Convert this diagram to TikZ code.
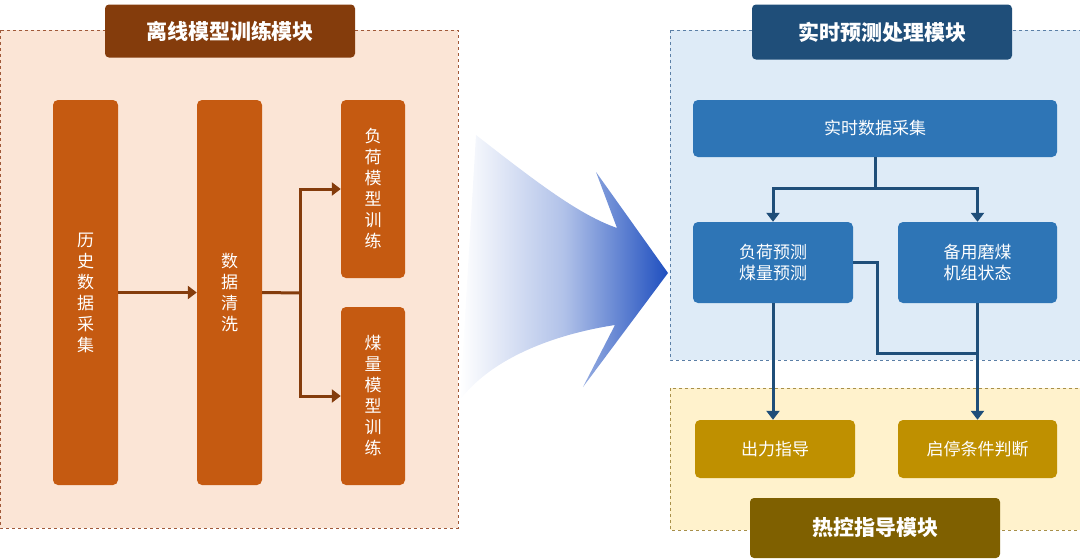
\documentclass[tikz,border=0pt]{standalone}
\usepackage{fontspec}
\setmainfont{Noto Sans CJK SC}
\usetikzlibrary{positioning, calc, arrows.meta}
\definecolor{offfill}{HTML}{FBE5D6}
\definecolor{offline}{HTML}{A0593A}
\definecolor{offtitle}{HTML}{843C0C}
\definecolor{offnode}{HTML}{C55A11}
\definecolor{rtfill}{HTML}{DEEBF7}
\definecolor{rtline}{HTML}{5B7FA6}
\definecolor{rttitle}{HTML}{1F4E79}
\definecolor{rtnode}{HTML}{2E75B6}
\definecolor{gdfill}{HTML}{FFF2CC}
\definecolor{gdline}{HTML}{A8904A}
\definecolor{gdtitle}{HTML}{7F6000}
\definecolor{gdnode}{HTML}{BF9000}
\definecolor{bigblue}{HTML}{1F4FBF}
\begin{document}
\begin{tikzpicture}[x=1pt, y=-1pt,
  panel/.style={draw, dashed, line width=0.8pt},
  title/.style={rounded corners=4pt, text=white, font=\bfseries\fontsize{21}{24}\selectfont, inner sep=0pt},
  box/.style={rounded corners=5pt, text=white, font=\fontsize{17}{21}\selectfont, align=center, inner sep=0pt},
  vbox/.style={box, fill=offnode},
  brarrow/.style={draw=offtitle, line width=3pt, -{Triangle[length=9pt,width=13pt]}},
  blarrow/.style={draw=rttitle, line width=3pt, -{Triangle[length=9pt,width=13pt]}}]
\useasboundingbox (0,0) rectangle (1080,560);
% panels
\filldraw[panel, fill=offfill, draw=offline] (0,30) rectangle (458,528);
\filldraw[panel, fill=rtfill, draw=rtline] (670,30) rectangle (1080,360);
\filldraw[panel, fill=gdfill, draw=gdline] (670,388) rectangle (1080,530);
% big arrow
\shade[left color=white, right color=bigblue, middle color=bigblue!35]
  (476,135) .. controls (540,185) and (580,215) .. (617,228) -- (596,172) -- (668,273)
  -- (583,387) -- (615,325) .. controls (550,335) and (490,360) .. (460,400) -- cycle;
% titles
\node[title, fill=offtitle, minimum width=250pt, minimum height=53pt] (offt) at (230,31) {离线模型训练模块};
\node[title, fill=rttitle, minimum width=260pt, minimum height=55pt] (rtt) at (882,32) {实时预测处理模块};
\node[title, fill=gdtitle, minimum width=250pt, minimum height=60pt] (gdt) at (875,528) {热控指导模块};
% offline nodes
\node[vbox, minimum width=65pt, minimum height=385pt] (hist) at (85.5,292.5) {历\\史\\数\\据\\采\\集};
\node[vbox, minimum width=65pt, minimum height=385pt] (clean) at (229.5,292.5) {数\\据\\清\\洗};
\node[vbox, minimum width=64pt, minimum height=178pt] (load) at (373,189) {负\\荷\\模\\型\\训\\练};
\node[vbox, minimum width=64pt, minimum height=178pt] (coal) at (373,396) {煤\\量\\模\\型\\训\\练};
\coordinate (split) at (300,293);
\draw[brarrow] (hist.east) -- (clean.west);
\draw[draw=offtitle, line width=3pt] (clean.east) -- (split);
\draw[brarrow] (split) |- (load.west);
\draw[brarrow] (split) |- (coal.west);
% real-time nodes
\node[box, fill=rtnode, minimum width=364pt, minimum height=57pt] (rtin) at (875,128.5) {实时数据采集};
\node[box, fill=rtnode, minimum width=160pt, minimum height=81pt] (pred) at (773,262.5) {负荷预测\\煤量预测};
\node[box, fill=rtnode, minimum width=159pt, minimum height=81pt] (mill) at (977.5,262.5) {备用磨煤\\机组状态};
\node[box, fill=gdnode, minimum width=160pt, minimum height=58pt] (out) at (775,449) {出力指导};
\node[box, fill=gdnode, minimum width=159pt, minimum height=58pt] (stst) at (977.5,449) {启停条件判断};
\coordinate (fork) at (875,188);
\coordinate (bend) at (877,353);
\draw[draw=rttitle, line width=3pt] (rtin.south -| fork) -- (fork);
\draw[blarrow] (fork) -| (pred.north);
\draw[blarrow] (fork) -| (mill.north);
\draw[blarrow] (pred.south) -- (pred.south |- out.north);
\draw[blarrow] (mill.south) -- (stst.north);
\draw[draw=rttitle, line width=3pt] (pred.east) -| (bend) -| (mill.south |- bend);
\end{tikzpicture}
\end{document}
